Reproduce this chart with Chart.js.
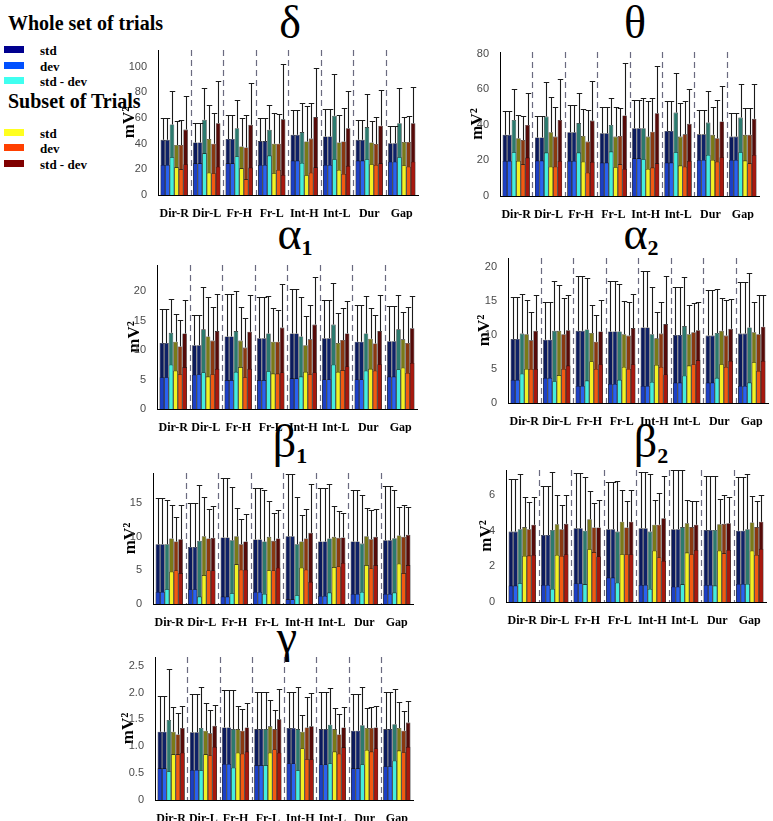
<!DOCTYPE html>
<html><head><meta charset="utf-8">
<script src="https://cdn.jsdelivr.net/npm/chart.js@4/dist/chart.umd.min.js"></script>
<style>
html,body{margin:0;padding:0;background:#fff;}
body{width:773px;height:821px;position:relative;overflow:hidden;font-family:'Liberation Serif',serif;color:#000;}
.box{position:absolute;}
.ttl{position:absolute;font-family:'Liberation Serif',serif;font-size:46px;line-height:46px;white-space:nowrap;transform:translateX(-50%);}
.ttl sub{font-size:22px;font-weight:bold;vertical-align:-6px;line-height:0;}
.lgh{position:absolute;left:8px;font-weight:bold;font-size:20px;line-height:20px;white-space:nowrap;}
.sw{position:absolute;left:4px;width:20px;height:7px;}
.lt{position:absolute;left:40px;font-weight:bold;font-size:13px;line-height:13px;white-space:nowrap;}
</style></head><body>

<div class="lgh" style="top:13px">Whole set of trials</div>
<div class="sw" style="top:46px;background:#00008f"></div><div class="lt" style="top:44px">std</div>
<div class="sw" style="top:62px;background:#0050ff"></div><div class="lt" style="top:60px">dev</div>
<div class="sw" style="top:77px;background:#40fff0"></div><div class="lt" style="top:75px">std - dev</div>
<div class="lgh" style="top:91px">Subset of Trials</div>
<div class="sw" style="top:129px;background:#ffff20"></div><div class="lt" style="top:127px">std</div>
<div class="sw" style="top:144px;background:#ff4000"></div><div class="lt" style="top:142px">dev</div>
<div class="sw" style="top:160px;background:#800000"></div><div class="lt" style="top:158px">std - dev</div>

<div class="ttl" style="left:290px;top:0px">δ</div>
<div class="ttl" style="left:635px;top:0px">θ</div>
<div class="ttl" style="left:295px;top:211px">α<sub>1</sub></div>
<div class="ttl" style="left:641px;top:211px">α<sub>2</sub></div>
<div class="ttl" style="left:290px;top:419px">β<sub>1</sub></div>
<div class="ttl" style="left:651px;top:419px">β<sub>2</sub></div>
<div class="ttl" style="left:287px;top:614px">γ</div>

<script>
const categories = ['Dir-R','Dir-L','Fr-H','Fr-L','Int-H','Int-L','Dur','Gap'];

// rows = bar positions 1..6 in each group; columns = categories
const deltaHigh = [
  [43,41,43.7,42,46.9,45.6,43,40.4],
  [43,41,43.7,42,46.9,45.6,43,40.4],
  [55,58.6,52,50.8,49,61.7,52.9,56],
  [39,43.7,37.8,40,41.7,40.9,41,41.4],
  [39,40,37,40,44,41.7,39.8,41.4],
  [51,56,54.7,59,60.7,52,54,56]];
const deltaErr = [
  [60,56.5,62.5,60,65.9,67,58.6,53.4],
  [60,56.5,62.5,60,65.9,67,58.6,53.4],
  [81,83,74,70,71.6,94,78.6,83.6],
  [58,70,60,63.8,69,62.5,57.3,61],
  [58.6,64,62,63,71.6,67.7,60.7,61.5],
  [77,89,87,102,99,80.7,81.5,84]];
const deltaLow = [
  [23.4,24.7,24.7,23.4,26.8,23.4,26.8,26],
  [23.4,24.7,24.7,23.4,26.8,23.4,26.8,26],
  [29.4,32.5,30,30.7,25,27.9,27.9,29.5],
  [21.6,17.4,20.8,17,15.4,19.5,24,23],
  [20,17,12.2,19.5,17.4,16.4,23.4,22],
  [24,22,21.4,15.6,21.6,22.7,24.7,26]];

const thetaHigh = [
  [34.4,32.9,35.9,35.3,38.1,36.6,34.7,33.4],
  [34.4,32.9,35.9,35.3,38.1,36.6,34.7,33.4],
  [42.8,44.7,41,40,38.1,46.9,41.3,44.1],
  [32.5,35.9,33.8,33.4,33.4,33.4,34.4,34.4],
  [31.5,33.4,30.6,33.8,36.2,34.7,32.5,34.4],
  [40,42.8,42.4,45.3,46.6,40.6,41.9,43.4]];
const thetaErr = [
  [48,45,51.3,50.3,54,53.7,48.5,46.6],
  [48,45,51.3,50.3,54,53.7,48.5,46.6],
  [60,64.4,57.8,55,55.4,69,59.3,63.1],
  [45.6,55.6,48.8,50.3,53.5,52.2,50.3,49.4],
  [45,50.3,48.5,49.4,55.4,53.5,54,49.4],
  [57.8,65.7,64.8,74.7,73.4,60.3,61.6,63.1]];
const thetaLow = [
  [19.7,19.9,19.7,18.8,21.2,18.8,20.3,20.3],
  [19.7,19.9,19.7,18.8,21.2,18.8,20.3,20.3],
  [24.6,24.4,24.4,25,20.7,24.6,23.1,24.6],
  [19.7,16.5,19.3,16.2,15.2,17.1,20.3,19.9],
  [17.8,16.5,13.1,17.8,16,16.5,19.3,18.4],
  [21.6,19.7,19.2,15.2,18.4,19.7,21.8,23.1]];

const alpha1High = [
  [11.2,10.8,12.3,12,12.8,12,11.4,11.5],
  [11.2,10.8,12.3,12,12.8,12,11.4,11.5],
  [12.9,13.5,13.2,12.8,12.3,14.3,12.8,13.5],
  [11.4,12.3,11.6,11.4,10.8,11.2,11.9,11.8],
  [10.6,11.6,10.4,11.4,11.8,11.7,11.1,11.2],
  [12.8,13.2,13.1,13.8,14.3,12.8,13.2,13.7]];
const alpha1Err = [
  [16.9,15.9,19.5,18.9,20.3,18.5,17.7,17.5],
  [16.9,15.9,19.5,18.9,20.3,18.5,17.7,17.5],
  [18.6,20.7,20,19.2,18.9,21.3,19.2,19.3],
  [16.1,19,17.2,17.1,15.8,16.3,17.1,16.4],
  [15.1,17.2,15.5,16.7,17.6,17.1,16,17.3],
  [18.5,19.5,19.3,21.2,22.3,18.3,19.4,19.2]];
const alpha1Low = [
  [5.4,5.8,4.9,4.9,5.2,5,5,5.5],
  [5.4,5.9,4.9,4.9,5.2,5,5,5.5],
  [7.5,6.2,6.3,6.4,5.5,7.5,6.5,6.7],
  [6.5,5.5,7.1,6,6.3,6.3,6.8,7],
  [5.9,5.9,5.4,6,5.9,6.6,6.5,6.1],
  [7.1,6.8,6.8,6.2,6.2,7.2,7.6,7.8]];

const alpha2High = [
  [9.4,9.3,10.6,10.5,11.1,10,9.9,10.2],
  [9.4,9.3,10.6,10.5,11.1,10,9.9,10.2],
  [10.2,10.6,10.8,10.5,10.1,11.3,10.3,11.1],
  [10.1,10.6,10.3,10.1,9.5,10.1,10.6,10.4],
  [9.2,10.1,9,9.9,10.2,10.4,9.9,10.1],
  [10.6,10.7,10.5,11,11.6,10.7,10.9,11.2]];
const alpha2Err = [
  [15.5,14.9,18.7,17.9,19.4,17,16.6,17.8],
  [15.5,14.9,18.7,17.9,19.4,17,16.6,17.8],
  [16,17.9,18.3,17.5,17,18.5,16.8,19.1],
  [15.1,17.4,14.4,15,13.3,14.4,15.4,14.8],
  [13.4,15.4,13,14.8,14.8,14.7,15.1,15.8],
  [15.9,15.9,15.1,16,18.7,14.8,15.3,15.9]];
const alpha2Low = [
  [3.4,3.7,2.5,2.8,2.5,3,3,2.5],
  [3.4,3.7,2.5,2.8,2.5,3,3,2.5],
  [4.3,3.2,3.3,3.4,3.1,4,3.7,3],
  [5,4.1,6.1,5.3,5.6,5.5,5.7,6],
  [5,5,5,5,5.3,5.7,5.3,4.7],
  [5,5.5,5.7,5.7,4.2,6.3,6.2,6.2]];

const beta1High = [
  [8.9,8.5,9.9,9.6,10.1,9.3,9.3,9.5],
  [8.9,8.5,9.9,9.6,10.1,9.3,9.3,9.5],
  [8.9,9.4,9.5,9.3,8.9,9.75,9,9.8],
  [9.75,10.1,10.1,10,9.3,10,10.1,10.2],
  [9.3,9.75,8.9,9.4,9.75,9.85,9.65,10],
  [9.65,9.85,9.3,9.75,10.6,9.9,10,10.3]];
const beta1Err = [
  [15.8,15.1,18.7,17.2,19.3,17.3,16.9,17.5],
  [15.8,15.1,18.7,17.2,19.3,17.3,16.9,17.5],
  [15.5,17.7,17.4,16.9,16,17.9,16.2,17],
  [14.8,16,14.3,15.4,13.2,14.6,14.3,14.5],
  [13,14.1,12.7,13.6,14.1,13.9,14,14.7],
  [14.7,14.6,13.4,14,17.8,13.6,14.1,14.5]];
const beta1Low = [
  [1.8,2.2,1.1,1.8,0.7,1.2,1.5,1.5],
  [1.8,2.2,1.1,1.8,0.7,1.2,1.5,1.5],
  [2.2,1.1,1.6,1.5,1.3,1.7,1.8,1.7],
  [4.8,4.3,5.9,5,5.4,5.5,5.8,6],
  [5,5,5.1,5,5.1,5.6,5.3,4.6],
  [4.6,5,5.1,5.4,3.3,6.1,5.8,5.8]];

const beta2High = [
  [3.95,3.76,4.14,4.08,4.14,4.08,4.04,4.0],
  [3.95,3.76,4.14,4.08,4.14,4.08,4.04,4.0],
  [4.08,4.04,4.0,3.95,3.95,4.2,4.04,4.08],
  [4.2,4.36,4.64,4.5,4.33,4.42,4.36,4.46],
  [4.08,4.08,4.18,4.18,4.33,4.2,4.38,4.2],
  [4.33,4.38,4.18,4.5,4.7,4.33,4.42,4.5]];
const beta2Err = [
  [6.9,6.5,7.23,6.7,7.3,7.4,7.08,7.0],
  [6.9,6.5,7.23,6.7,7.3,7.4,7.08,7.0],
  [7.17,7.27,7.0,6.8,7.17,7.4,7.08,7.2],
  [5.9,6.0,6.24,6.3,5.7,5.73,5.77,5.96],
  [5.6,5.43,5.54,5.64,6.1,5.64,6.0,5.64],
  [5.9,6.0,5.7,6.3,7.04,5.64,5.9,6.0]];
const beta2Low = [
  [0.92,0.96,1.05,1.37,0.96,0.86,0.96,1.01],
  [0.92,0.96,1.05,1.37,0.96,0.86,0.96,1.01],
  [1.05,0.73,0.99,1.08,0.73,0.99,0.92,1.01],
  [2.58,2.64,2.96,2.68,2.88,2.77,2.88,2.88],
  [2.6,2.58,2.8,2.68,2.5,2.68,2.73,2.64],
  [2.64,2.68,2.55,2.68,2.3,2.92,2.92,2.98]];

const gammaHigh = [
  [1.27,1.26,1.35,1.32,1.34,1.32,1.29,1.32],
  [1.27,1.26,1.35,1.32,1.34,1.32,1.29,1.32],
  [1.49,1.34,1.32,1.32,1.32,1.4,1.39,1.41],
  [1.27,1.29,1.32,1.37,1.27,1.32,1.34,1.34],
  [1.22,1.24,1.29,1.32,1.35,1.22,1.34,1.29],
  [1.34,1.38,1.35,1.5,1.37,1.35,1.35,1.44]];
const gammaErr = [
  [1.94,1.97,2.04,2.0,2.0,2.0,1.98,2.0],
  [1.94,1.97,2.04,2.0,2.0,2.0,1.98,2.0],
  [2.43,2.11,2.04,2.0,2.11,2.08,2.1,2.07],
  [1.73,1.8,1.75,1.86,1.58,1.71,1.71,1.83],
  [1.61,1.68,1.7,1.68,1.91,1.6,1.73,1.66],
  [1.74,1.77,1.8,2.07,1.99,1.73,1.75,1.85]];
const gammaLow = [
  [0.59,0.56,0.67,0.65,0.68,0.66,0.59,0.63],
  [0.59,0.56,0.67,0.65,0.68,0.66,0.59,0.63],
  [0.53,0.55,0.6,0.65,0.55,0.68,0.66,0.73],
  [0.85,0.85,0.88,0.88,0.96,0.9,0.93,0.92],
  [0.85,0.83,0.86,0.94,0.76,0.86,0.9,0.89],
  [0.88,0.99,0.9,0.88,0.76,0.98,0.96,0.99]];

const yMax = {delta:113, theta:81, alpha1:24.4, alpha2:21.3, beta1:19.5, beta2:7.4, gamma:2.66};
const yStep = {delta:20, theta:20, alpha1:5, alpha2:5, beta1:5, beta2:2, gamma:0.5};

const highColors = ['#0b1a5c','#0f2268','#2c7a6e','#7a7a18','#8a3810','#560a08'];
const lowColors  = ['#1c3fc4','#2a62f0','#44eede','#f2f224','#f25a12','#a8180e'];

// layout (plot area in page pixels)
const panels = [
  {key:'delta', L:158, R:418, T:50,  B:195, W:37, high:deltaHigh, low:deltaLow, err:deltaErr},
  {key:'theta', L:500, R:759, T:52,  B:196, W:31, high:thetaHigh, low:thetaLow, err:thetaErr},
  {key:'alpha1',L:157, R:417, T:265, B:409, W:31, high:alpha1High, low:alpha1Low, err:alpha1Err},
  {key:'alpha2',L:508, R:768, T:258, B:403, W:32, high:alpha2High, low:alpha2Low, err:alpha2Err},
  {key:'beta1', L:153, R:413, T:473, B:604, W:31, high:beta1High, low:beta1Low, err:beta1Err},
  {key:'beta2', L:506, R:766, T:470, B:602, W:28, high:beta2High, low:beta2Low, err:beta2Err},
  {key:'gamma', L:155, R:413, T:657, B:800, W:35, high:gammaHigh, low:gammaLow, err:gammaErr}
];

const sepPlugin = {
  id:'seps',
  afterDatasetsDraw(chart){
    const {ctx, chartArea:a} = chart; const x = chart.scales.x;
    ctx.save(); ctx.strokeStyle='#6a6a80'; ctx.lineWidth=1.2; ctx.setLineDash([6,4]);
    for (let i=1;i<categories.length;i++){
      const px = Math.round((x.getPixelForTick(i-1)+x.getPixelForTick(i))/2)+0.5;
      ctx.beginPath(); ctx.moveTo(px,a.top); ctx.lineTo(px,a.bottom); ctx.stroke();
    }
    ctx.restore();
  }
};
const errPlugin = {
  id:'errs',
  afterDatasetsDraw(chart){
    const {ctx} = chart; const y = chart.scales.y;
    ctx.save(); ctx.strokeStyle='#1a1a1a'; ctx.lineWidth=1.1;
    chart.data.datasets.forEach((ds,i)=>{
      if(!ds.errTop) return;
      const meta = chart.getDatasetMeta(i);
      meta.data.forEach((el,j)=>{
        const yt = y.getPixelForValue(ds.errTop[j]);
        const cx = Math.round(el.x)+0.5, hw = el.width*0.6;
        ctx.beginPath();
        ctx.moveTo(cx, el.y); ctx.lineTo(cx, Math.round(yt)+0.5);
        ctx.moveTo(cx-hw, Math.round(yt)+0.5); ctx.lineTo(cx+hw, Math.round(yt)+0.5);
        ctx.stroke();
      });
    });
    ctx.restore();
  }
};

const PADT = 12, XH = 24, PADR = 4;
panels.forEach(p=>{
  const div = document.createElement('div');
  div.className='box';
  div.style.left=(p.L-p.W)+'px'; div.style.top=(p.T-PADT)+'px';
  div.style.width=(p.W+(p.R-p.L)+PADR)+'px'; div.style.height=(PADT+(p.B-p.T)+XH)+'px';
  const cv = document.createElement('canvas'); div.appendChild(cv); document.body.appendChild(div);
  const datasets=[];
  for(let k=0;k<6;k++){
    datasets.push({data:p.low[k], stack:'s'+k, backgroundColor:lowColors[k], borderColor:'#111', borderWidth:0.6, order:0});
  }
  for(let k=0;k<6;k++){
    datasets.push({data:p.high[k], stack:'s'+k, backgroundColor:highColors[k], borderColor:'#111', borderWidth:0.6, order:1, errTop:p.err[k]});
  }
  new Chart(cv,{
    type:'bar',
    data:{labels:categories, datasets},
    plugins:[sepPlugin, errPlugin],
    options:{
      responsive:true, maintainAspectRatio:false, animation:false,
      devicePixelRatio:1,
      categoryPercentage:0.84, barPercentage:1.0,
      layout:{padding:{top:PADT,right:PADR,left:0,bottom:0}},
      plugins:{legend:{display:false}, tooltip:{enabled:false}},
      scales:{
        x:{stacked:true, grid:{display:false}, border:{display:true,color:'#000',width:1},
           ticks:{autoSkip:false, maxRotation:0, minRotation:0, padding:4, color:'#000',
                  font:{family:'Liberation Serif', size:12, weight:'bold'}},
           afterFit(s){ s.height = XH; }},
        y:{stacked:false, min:0, max:yMax[p.key],
           grid:{display:false}, border:{display:true,color:'#000',width:1},
           ticks:{stepSize:yStep[p.key], includeBounds:false, padding:3, color:'#4a4a4a',
                  font:{family:'Liberation Sans', size:11}},
           title:{display:true, text:'mV²', color:'#000', padding:0,
                  font:{family:'Liberation Serif', size:17, weight:'bold', lineHeight:1}},
           afterFit(s){ s.width = p.W; }}
      }
    }
  });
});
</script>
</body></html>
